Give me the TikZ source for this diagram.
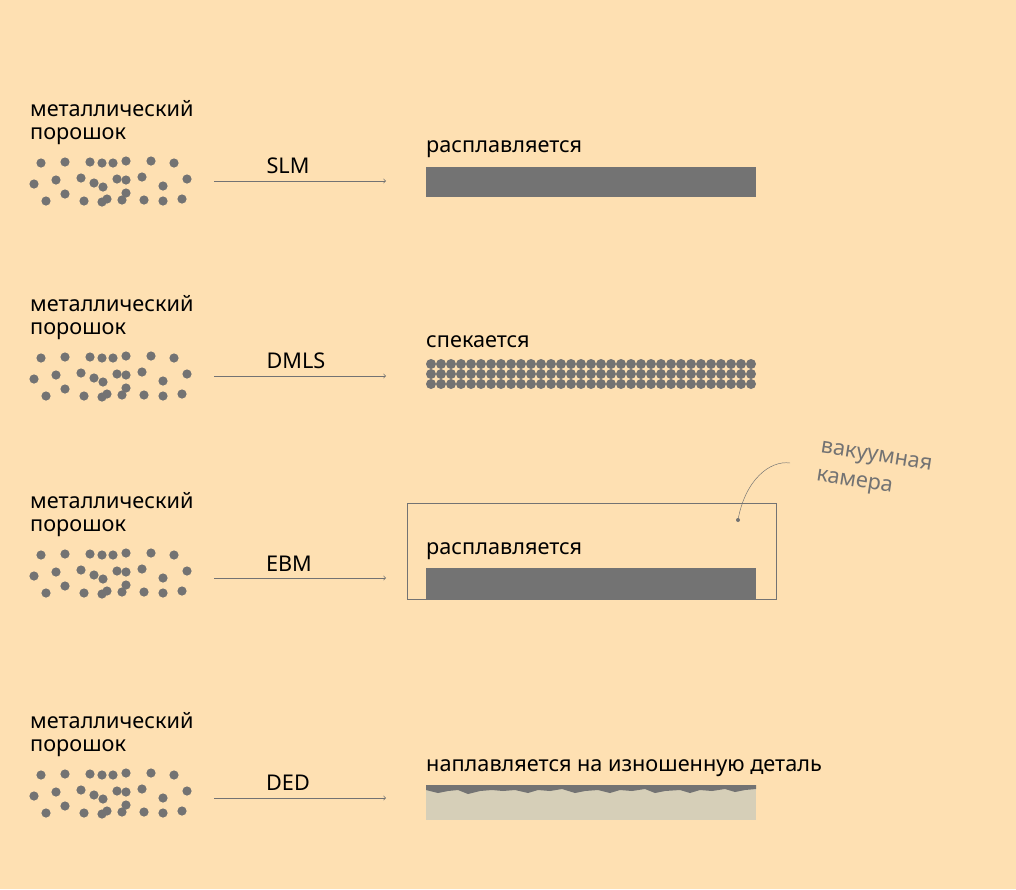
\documentclass[tikz,border=0pt]{standalone}
\usepackage{fontspec}
\setmainfont{Noto Sans}
\usetikzlibrary{positioning}
\definecolor{bgcol}{HTML}{FEE0B2}
\definecolor{grain}{HTML}{737373}
\definecolor{base}{HTML}{D6CFB8}
\tikzset{>=to}
\tikzset{
    lbl/.style={anchor=west, inner sep=0pt, font=\fontsize{18.5}{18.5}\selectfont},
    flow/.style={->, draw=grain, semithick},
    stepname/.style={inner sep=0pt, font=\fontsize{18.5}{18.5}\selectfont}
}
\newcommand{\powder}[1]{%
    \begin{scope}[shift={#1}]
        \foreach \px/\py in {41/163,65/162,90/162,102/163,113/163,126/161,151/161,174/163,
                              34/184,56/180,81/178,94/183,103/187,117/179,126/180,142/177,163/186,187/179,
                              46/201,65/194,84/201,102/202,107/199,122/200,126/193,144/200,163/201,182/199}
            \fill[grain] (\px,\py) circle (4.6);
    \end{scope}}
\begin{document}
\begin{tikzpicture}[x=0.03cm, y=-0.03cm]
    \fill[bgcol] (0,0) rectangle (1016,889);
    \useasboundingbox (0,0) rectangle (1016,889);

    % powder groups
    \foreach \dy in {0,195,392,612} {
        \node[lbl] at (30,{109+\dy}) {металлический};
        \node[lbl] at (30,{136+\dy}) {порошок};
        \powder{(0,\dy)}
    }

    % arrows
    \coordinate (s1) at (214,181); \coordinate (e1) at (386,181);
    \coordinate (s2) at (214,376); \coordinate (e2) at (386,376);
    \coordinate (s3) at (214,578); \coordinate (e3) at (386,578);
    \coordinate (s4) at (214,798); \coordinate (e4) at (386,798);
    \draw[flow] (s1) -- (e1);
    \draw[flow] (s2) -- (e2);
    \draw[flow] (s3) -- (e3);
    \draw[flow] (s4) -- (e4);
    \node[stepname] (slm) at (288,166) {SLM};
    \node[stepname] (dmls) at (296,361) {DMLS};
    \node[stepname] (ebm) at (289,564) {EBM};
    \node[stepname] (ded) at (288,783) {DED};

    % SLM
    \node[lbl] (melt1) at (426,149) {расплавляется};
    \fill[grain] (426,167) rectangle (756,197);

    % DMLS
    \node[lbl] (sinter) at (426,342) {спекается};
    \foreach \r in {0,1,2}
        \foreach \c in {0,...,32}
            \fill[grain] ({431+10*\c},{364+10*\r}) circle (5);

    % EBM
    \draw[grain, thin] (407,503) rectangle (776,599);
    \node[lbl] (melt2) at (426,551) {расплавляется};
    \fill[grain] (426,568) rectangle (756,599);
    \coordinate (cham) at (738,520);
    \fill[grain] (cham) circle (2);
    \node[grain, rotate=-9, align=left, inner sep=0pt, font=\fontsize{18.5}{24}\selectfont] (vac) at (874,472) {вакуумная\\камера};
    \draw[grain, thin] (cham) .. controls (745,480) and (770,460) .. (790,463);

    % DED
    \node[lbl] (clad) at (426,768) {наплавляется на изношенную деталь};
    \fill[base] (426,785) rectangle (756,820);
    \fill[grain] (426,785) -- (756,785) -- (756,789) -- (745,790) -- (735,792) -- (725,789)
        -- (712,791) -- (700,790) -- (690,793) -- (680,790) -- (665,791) -- (655,793)
        -- (645,789) -- (632,791) -- (620,790) -- (610,793) -- (598,790) -- (585,791)
        -- (575,793) -- (562,789) -- (550,791) -- (538,790) -- (528,793) -- (515,790)
        -- (503,791) -- (492,790) -- (480,791) -- (468,794) -- (458,790) -- (448,791)
        -- (438,793) -- (426,790) -- cycle;
\end{tikzpicture}
\end{document}
